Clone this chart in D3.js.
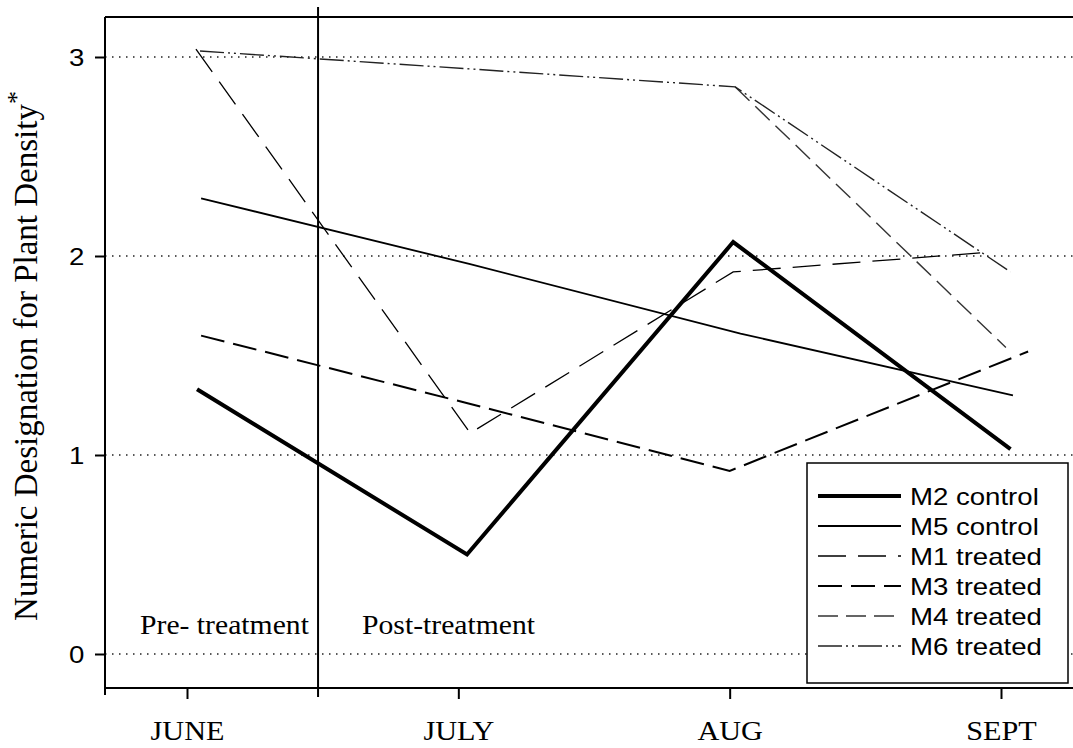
<!DOCTYPE html>
<html>
<head>
<meta charset="utf-8">
<script src="https://cdn.jsdelivr.net/npm/d3@7/dist/d3.min.js"></script>
<style>
  html, body { margin: 0; padding: 0; background: #fff; }
  svg { display: block; }
</style>
</head>
<body>
<svg id="chart" width="1073" height="748"></svg>
<script>
// ---------------- DATA ----------------
const months = ["JUNE", "JULY", "AUG", "SEPT"];
const monthTicks = [0, 1, 2, 3];
const yTicks = [0, 1, 2, 3];
const seriesNames = ["M2 control", "M5 control", "M1 treated", "M3 treated", "M4 treated", "M6 treated"];

// sampling position (in months from the JUNE tick) and plant density designation
const m2Time = [0.037, 1.032, 2.013, 3.035];
const m2Values = [1.33, 0.50, 2.07, 1.03];
const m5Time = [0.052, 1.04, 2.04, 3.044];
const m5Values = [2.29, 1.96, 1.61, 1.30];
const m1Time = [0.033, 1.044, 2.013, 2.965];
const m1Values = [3.04, 1.11, 1.92, 2.02];
const m3Time = [0.052, 1.034, 2.0, 3.10];
const m3Values = [1.60, 1.26, 0.92, 1.52];
const m4Time = [null, null, 2.02, 3.018];
const m4Values = [null, null, 2.85, 1.54];
const m6Time = [0.048, 1.044, 2.02, 3.035];
const m6Values = [3.03, 2.94, 2.85, 1.92];
const treatmentStart = 0.483;   // pre/post treatment divider (months)

// ---------------- STYLES ----------------
const styles = {
  "M2 control": { width: 4, dash: null, color: "#000" },
  "M5 control": { width: 1.8, dash: null, color: "#000" },
  "M1 treated": { width: 1.3, dash: "28,12", color: "#000" },
  "M3 treated": { width: 2, dash: "24,9", color: "#000" },
  "M4 treated": { width: 1.4, dash: "20,8", color: "#333" },
  "M6 treated": { width: 1.4, dash: "24,4,2,4,2,4", color: "#222" }
};

const seriesData = [
  { name: "M2 control", t: m2Time, v: m2Values },
  { name: "M5 control", t: m5Time, v: m5Values },
  { name: "M1 treated", t: m1Time, v: m1Values },
  { name: "M3 treated", t: m3Time, v: m3Values },
  { name: "M4 treated", t: m4Time, v: m4Values },
  { name: "M6 treated", t: m6Time, v: m6Values }
];

// ---------------- LAYOUT ----------------
const frame = { left: 105, top: 17, right: 1073, bottom: 688 };
const svg = d3.select("#chart");

const x = d3.scaleLinear().domain([0, 3]).range([187, 1001]);
const y = d3.scaleLinear().domain([0, 3]).range([654, 57]);

// dotted grid lines
svg.append("g").selectAll("line").data(yTicks).join("line")
  .attr("x1", frame.left).attr("x2", frame.right)
  .attr("y1", d => y(d)).attr("y2", d => y(d))
  .attr("stroke", "#222").attr("stroke-width", 1.4)
  .attr("stroke-dasharray", "1.5,5.5");

// data lines
const line = d3.line()
  .defined((d) => d.v != null && d.t != null)
  .x(d => x(d.t)).y(d => y(d.v));

const drawOrder = ["M5 control", "M1 treated", "M3 treated", "M4 treated", "M6 treated", "M2 control"];
drawOrder.forEach(name => {
  const s = seriesData.find(d => d.name === name);
  const pts = s.t.map((t, i) => ({ t: t, v: s.v[i] }));
  const st = styles[name];
  svg.append("path")
    .datum(pts)
    .attr("d", line)
    .attr("fill", "none")
    .attr("stroke", st.color)
    .attr("stroke-width", st.width)
    .attr("stroke-dasharray", st.dash)
    .attr("stroke-linejoin", "miter");
});

// frame lines
svg.append("line").attr("x1", frame.left).attr("x2", frame.right)
  .attr("y1", frame.top).attr("y2", frame.top)
  .attr("stroke", "#000").attr("stroke-width", 2);
svg.append("line").attr("x1", frame.left).attr("x2", frame.right)
  .attr("y1", frame.bottom).attr("y2", frame.bottom)
  .attr("stroke", "#000").attr("stroke-width", 2);
svg.append("line").attr("x1", frame.left).attr("x2", frame.left)
  .attr("y1", frame.top).attr("y2", frame.bottom)
  .attr("stroke", "#000").attr("stroke-width", 2);
// left-end tick on bottom axis
svg.append("line").attr("x1", frame.left).attr("x2", frame.left)
  .attr("y1", frame.bottom).attr("y2", frame.bottom + 7)
  .attr("stroke", "#000").attr("stroke-width", 2);

// treatment divider
svg.append("line")
  .attr("x1", x(treatmentStart)).attr("x2", x(treatmentStart))
  .attr("y1", 7).attr("y2", frame.bottom + 9)
  .attr("stroke", "#000").attr("stroke-width", 2);

// y axis
const yAxis = svg.append("g")
  .attr("transform", `translate(${frame.left},0)`)
  .call(d3.axisLeft(y).tickValues(yTicks).tickSize(10).tickSizeOuter(0).tickFormat(d3.format("d")));
yAxis.attr("font-size", null).attr("font-family", null);
yAxis.select(".domain").remove();
yAxis.selectAll(".tick line").attr("stroke", "#000").attr("stroke-width", 2);
yAxis.selectAll(".tick text")
  .attr("x", -18).attr("dy", "0.36em")
  .style("font-family", "'Liberation Sans', Arial, sans-serif")
  .style("font-size", "24px").attr("fill", "#000")
  .attr("transform", "scale(1.15,1)");

// x axis
const xAxis = svg.append("g")
  .attr("transform", `translate(0,${frame.bottom})`)
  .call(d3.axisBottom(x).tickValues(monthTicks).tickSize(11).tickSizeOuter(0)
    .tickFormat(i => months[i]));
xAxis.attr("font-size", null).attr("font-family", null);
xAxis.select(".domain").remove();
xAxis.selectAll(".tick line").attr("stroke", "#000").attr("stroke-width", 2);
xAxis.selectAll(".tick text")
  .attr("y", 52).attr("dy", 0)
  .style("font-family", "'Liberation Serif', 'Times New Roman', serif")
  .style("font-size", "27px").attr("fill", "#000")
  .attr("transform", "scale(1.12,1)");

// treatment labels
function addText(str, px, py, opts) {
  return svg.append("text")
    .attr("transform", `translate(${px},${py}) scale(${opts.sx || 1},1)`)
    .style("font-family", opts.family)
    .style("font-size", opts.size + "px")
    .attr("text-anchor", opts.anchor || "start")
    .attr("fill", "#000")
    .text(str);
}
const serif = "'Liberation Serif', 'Times New Roman', serif";
const sans = "'Liberation Sans', Arial, sans-serif";
addText("Pre- treatment", 140, 634, { family: serif, size: 28, sx: 1.06 });
addText("Post-treatment", 362, 634, { family: serif, size: 28, sx: 1.06 });

// y axis title
const yTitle = svg.append("text")
  .attr("transform", "translate(37,356) rotate(-90)")
  .attr("text-anchor", "middle")
  .style("font-family", serif)
  .style("font-size", "33px")
  .attr("fill", "#000");
yTitle.append("tspan").text("Numeric Designation for Plant Density");
yTitle.append("tspan").attr("dy", -12).style("font-size", "26px").text("*");

// legend
const legend = svg.append("g");
legend.append("rect")
  .attr("x", 807).attr("y", 463).attr("width", 261).attr("height", 220)
  .attr("fill", "#fff").attr("stroke", "#000").attr("stroke-width", 1.5);
seriesNames.forEach((name, i) => {
  const st = styles[name];
  const ly = 496 + i * 30;
  legend.append("line")
    .attr("x1", 818).attr("x2", 901)
    .attr("y1", ly).attr("y2", ly)
    .attr("stroke", st.color)
    .attr("stroke-width", st.width)
    .attr("stroke-dasharray", st.dash);
  legend.append("text")
    .attr("transform", `translate(910,${ly + 9}) scale(1.2,1)`)
    .style("font-family", sans)
    .style("font-size", "23px")
    .attr("fill", "#000")
    .text(name);
});
</script>
</body>
</html>
